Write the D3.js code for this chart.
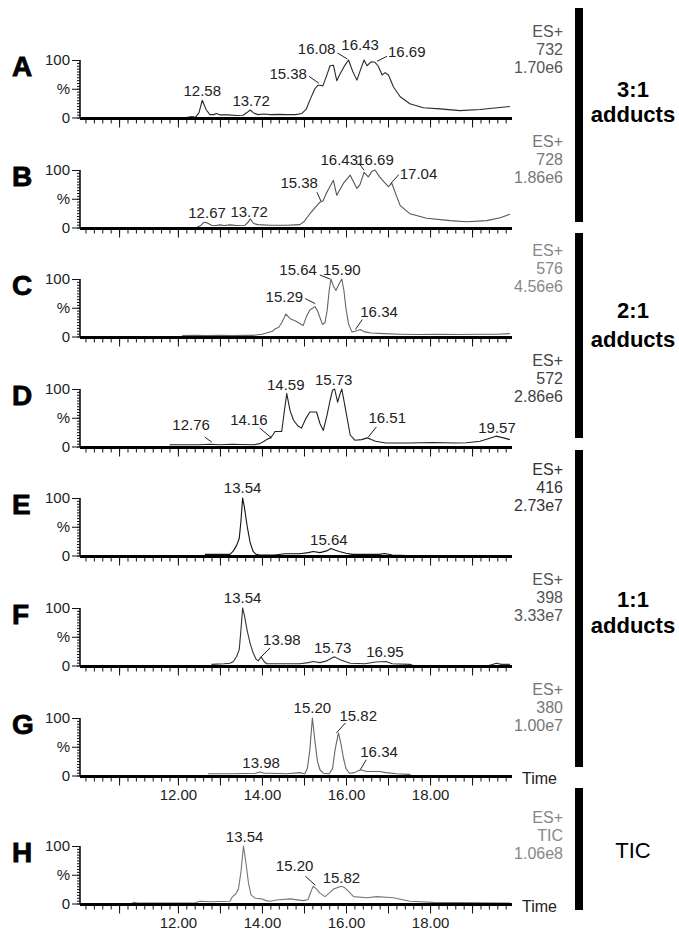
<!DOCTYPE html>
<html>
<head>
<meta charset="utf-8">
<script src="https://cdn.jsdelivr.net/npm/d3@7"></script>
<style>
  body { margin: 0; background: #fff; }
  svg { display: block; }
  text { font-family: "Liberation Sans", Arial, sans-serif; }
</style>
</head>
<body>
<div id="chart"></div>
<script>
// ---- data: [retention time (min), relative intensity %] ----
const panelLetters = ["A", "B", "C", "D", "E", "F", "G", "H"];
const ionChannels = ["732", "728", "576", "572", "416", "398", "380", "TIC"];
const maxIntensities = ["1.70e6", "1.86e6", "4.56e6", "2.86e6", "2.73e7", "3.33e7", "1.00e7", "1.06e8"];
const groupNames = [["3:1", "adducts"], ["2:1", "adducts"], ["1:1", "adducts"], ["TIC"]];
const timeTicks = [12, 14, 16, 18];
const yTickLabels = ["0", "%", "100"];

const traceA = [[12.2,0],[12.33,1.5],[12.42,0.5],[12.5,8],[12.58,30],[12.67,14],[12.76,5],[12.85,5],[12.92,7],[13.0,4.5],[13.2,4.5],[13.4,3.5],[13.55,4],[13.65,9],[13.72,13],[13.8,8],[13.9,5],[14.05,6],[14.2,5],[14.4,5.5],[14.6,5],[14.8,5],[14.95,7],[15.05,14],[15.15,32],[15.26,50],[15.33,56],[15.38,56],[15.45,55],[15.55,75],[15.62,90],[15.7,91],[15.78,64],[15.86,76],[15.95,88],[16.06,100],[16.16,80],[16.26,65],[16.34,82],[16.43,100],[16.5,90],[16.6,97],[16.69,96],[16.76,90],[16.86,74],[16.93,78],[17.01,74],[17.13,53],[17.29,36],[17.52,24],[17.84,17],[18.24,15],[18.71,12],[19.19,14],[19.6,17],[19.9,19]];
const traceB = [[12.45,0],[12.55,4],[12.62,9],[12.7,8],[12.8,4],[12.9,3.5],[13.0,4.5],[13.1,3.5],[13.25,4.5],[13.4,3.5],[13.6,4],[13.68,10],[13.72,15],[13.8,7],[13.9,5],[14.2,4],[14.6,4],[14.9,5],[15.0,10],[15.14,24],[15.26,34],[15.38,44],[15.45,46],[15.55,62],[15.7,82],[15.78,56],[15.94,77],[16.1,91],[16.26,68],[16.33,74],[16.43,96],[16.53,88],[16.62,98],[16.69,100],[16.8,88],[16.92,78],[17.01,71],[17.09,77],[17.2,55],[17.29,38],[17.52,24],[17.92,16],[18.48,12],[18.87,10],[19.35,12],[19.67,17],[19.9,23]];
const traceC = [[12.1,1.5],[12.4,2],[12.7,1.5],[13.0,2],[13.3,1.5],[13.6,2],[13.8,2],[14.0,4],[14.11,6],[14.25,9],[14.31,13],[14.4,16],[14.47,24],[14.57,39],[14.67,31],[14.8,27],[14.98,19],[15.06,35],[15.14,46],[15.26,52],[15.32,45],[15.38,33],[15.44,21],[15.5,24],[15.55,45],[15.6,80],[15.64,100],[15.7,88],[15.76,80],[15.84,92],[15.9,100],[15.95,80],[16.0,48],[16.06,22],[16.14,8],[16.22,9],[16.34,12],[16.45,8],[16.6,6],[16.9,5],[17.3,4],[17.7,3.5],[18.2,4],[18.7,3.5],[19.2,4],[19.6,4],[19.9,5]];
const traceD = [[11.8,3],[12.2,3],[12.5,3],[12.76,4],[13.0,3],[13.3,4],[13.5,3.5],[13.8,3],[13.95,5],[14.05,9],[14.11,12],[14.2,15],[14.26,20],[14.31,26],[14.47,26],[14.53,60],[14.59,92],[14.67,62],[14.75,46],[14.85,36],[14.94,32],[15.04,48],[15.14,60],[15.3,60],[15.38,40],[15.46,28],[15.55,55],[15.62,80],[15.68,98],[15.73,100],[15.8,77],[15.86,92],[15.9,100],[15.98,68],[16.05,40],[16.1,20],[16.21,11],[16.37,12],[16.51,15],[16.6,12],[16.7,9],[16.95,6],[17.5,6],[18.08,7],[18.6,6],[18.87,6.5],[19.19,9],[19.4,14],[19.57,18],[19.75,15],[19.9,12]];
const traceE = [[12.64,2],[13.0,2],[13.24,2],[13.32,8],[13.4,18],[13.46,30],[13.5,60],[13.54,100],[13.58,85],[13.65,50],[13.72,22],[13.79,7],[13.86,2],[13.95,1],[14.3,1],[14.55,3],[14.9,3],[15.1,5],[15.22,7],[15.38,5],[15.54,8],[15.64,12],[15.75,9],[15.84,7],[16.0,4],[16.15,2],[16.8,2],[16.92,3.5],[17.1,1],[17.45,0]];
const traceF = [[12.8,2],[13.1,3],[13.24,4],[13.32,7],[13.4,16],[13.46,28],[13.5,62],[13.54,100],[13.58,88],[13.65,60],[13.72,38],[13.79,22],[13.86,11],[13.91,8],[13.98,15],[14.05,7],[14.11,3],[14.5,3],[14.9,3],[15.1,5],[15.22,7],[15.38,5],[15.54,8],[15.66,13],[15.73,15],[15.86,10],[16.1,4],[16.45,3],[16.7,6],[16.95,7],[17.1,3],[17.52,2],[17.6,0],[19.4,0],[19.5,2],[19.58,4],[19.7,2],[19.9,2]];
const traceG = [[12.72,3],[13.0,3],[13.3,3],[13.6,3.5],[13.85,4],[13.95,6],[14.05,4],[14.2,4],[14.6,3],[14.9,5],[15.02,3],[15.08,12],[15.14,45],[15.2,100],[15.26,60],[15.32,25],[15.38,10],[15.46,4],[15.6,3],[15.68,12],[15.74,45],[15.82,74],[15.88,55],[15.94,30],[16.0,12],[16.08,4],[16.2,5],[16.34,10],[16.5,7],[16.8,7],[16.95,5],[17.2,3],[17.5,2],[17.55,0]];
const traceH = [[10.9,0],[10.95,2],[11.05,1],[11.5,1],[12.0,1],[12.4,1],[12.52,4],[12.8,3],[13.0,3.5],[13.24,4],[13.3,12],[13.38,17],[13.44,25],[13.5,55],[13.56,100],[13.62,70],[13.68,35],[13.74,15],[13.84,9],[14.0,8],[14.1,5],[14.2,4],[14.35,6],[14.67,8],[14.98,5],[15.1,7],[15.16,20],[15.22,30],[15.3,25],[15.38,18],[15.5,12],[15.6,18],[15.7,25],[15.8,28],[15.9,30],[15.96,28],[16.06,21],[16.18,12],[16.5,10],[16.73,12],[17.13,10],[17.52,4],[18.08,2],[19.9,1]];
const traces = [traceA, traceB, traceC, traceD, traceE, traceF, traceG, traceH];

// labelled peaks: [time, intensity %]
const peaksA = [[12.58,30],[13.72,13],[15.38,56],[16.08,100],[16.43,100],[16.69,96]];
const peaksB = [[12.67,9],[13.72,15],[15.38,44],[16.43,96],[16.69,100],[17.04,71]];
const peaksC = [[15.29,52],[15.64,100],[15.90,100],[16.34,12]];
const peaksD = [[12.76,4],[14.16,13],[14.59,92],[15.73,100],[16.51,15],[19.57,18]];
const peaksE = [[13.54,100],[15.64,12]];
const peaksF = [[13.54,100],[13.98,15],[15.73,15],[16.95,7]];
const peaksG = [[13.98,6],[15.20,100],[15.82,74],[16.34,10]];
const peaksH = [[13.54,100],[15.20,30],[15.82,28]];
const peaks = [peaksA, peaksB, peaksC, peaksD, peaksE, peaksF, peaksG, peaksH];

// ---- layout ----
const W = 679, H = 930;
const tops = [60, 170, 279, 389, 498, 608, 718, 846];
const ph = 57.5;
const traceColor = ["#2a2a2a", "#555", "#666", "#222", "#111", "#333", "#666", "#777"];
const infoColor = ["#555", "#777", "#888", "#444", "#333", "#555", "#777", "#888"];
// label placement: [anchor, dx, dy, leader(x1,y1,x2,y2) relative to the peak]
const placement = [
  [["middle",0,-4],["middle",1,-4],["end",-13,-6,[-11,-9,-1,-2]],["end",-14,-6,[-12,-7,-2,-1]],["middle",-4,-10],["start",13,-5,[2,-1,12,-6]]],
  [["middle",1,-4],["middle",-1,-2],["end",-2,-14,[-3,-10,1,-1]],["end",-6,-7,[-5,-9,0,-2]],["middle",0,-5],["start",10,-8,[1,-3,9,-12]]],
  [["end",-13,-5,[-11,-8,-1,-3]],["end",-14,-4,[-11,-4,-1,0]],["middle",0,-4],["start",0,-13,[-5,0,2,-10]]],
  [["end",0,-14,[-5,-7,2,-2]],["end",-1,-14,[-9,-11,3,-1]],["middle",-1,-4],["middle",-1,-4],["start",1,-15,[9,-11,1,-1]],["middle",1,-3]],
  [["middle",0,-5],["middle",-2,-4]],
  [["middle",0,-5],["start",2,-12,[0,0,9,-9]],["middle",-2,-4],["middle",-1,-4]],
  [["middle",0,-4],["middle",0,-5],["start",1,-12,[-2,0,7,-10]],["start",0,-13,[0,0,6,-10]]],
  [["middle",2,-4],["end",1,-15,[-7,-10,3,-1]],["middle",3,-4]]
];
const groupPanels = [[0, 1], [2, 3], [4, 6], [7, 7]];
const barExtents = [[8, 222], [233, 438], [450, 767], [788, 910]];
const groupLabelY = [[97, 122], [318, 347], [607, 633], [858]];

const svg = d3.select("#chart").append("svg")
  .attr("width", W).attr("height", H);
svg.append("rect").attr("width", W).attr("height", H).attr("fill", "#fff");

const x0 = 80;
const x = d3.scaleLinear().domain([9.67, 19.95]).range([x0, 512]);
const minorTicks = d3.range(49, 100).map(i => i / 5);
const majorTicks = [10.6, 12, 13, 14, 15, 16, 17, 18, 19];
const yMinor = d3.range(0, 101, 5);

panelLetters.forEach((letter, i) => {
  const top = tops[i], base = top + ph;
  const y = d3.scaleLinear().domain([0, 100]).range([base, top]);
  const g = svg.append("g");

  // trace
  g.append("path")
    .datum(traces[i])
    .attr("d", d3.line().x(d => x(d[0])).y(d => y(d[1])))
    .attr("fill", "none")
    .attr("stroke", traceColor[i])
    .attr("stroke-width", 1.1)
    .attr("stroke-linejoin", "round");

  // y axis
  g.append("g").attr("transform", `translate(${x0},0)`)
    .call(d3.axisLeft(y).tickValues(yMinor).tickSize(3).tickFormat(""))
    .call(a => a.select(".domain").remove())
    .call(a => a.selectAll("line").attr("stroke", "#111"));
  g.append("g").attr("transform", `translate(${x0},0)`)
    .call(d3.axisLeft(y).tickValues([0, 50, 100]).tickSize(8).tickPadding(2)
      .tickFormat((d, j) => yTickLabels[j]))
    .call(a => a.select(".domain").remove())
    .call(a => a.selectAll("line").attr("stroke", "#111"))
    .call(a => a.selectAll("text").attr("font-size", 15).attr("fill", "#222")
      .attr("font-family", '"Liberation Sans", Arial, sans-serif'));
  g.append("line")
    .attr("x1", x0).attr("x2", x0).attr("y1", top).attr("y2", base)
    .attr("stroke", "#111").attr("stroke-width", 1.6);

  // x axis
  g.append("g").attr("transform", `translate(0,${base + 2})`)
    .call(d3.axisBottom(x).tickValues(minorTicks).tickSize(4).tickFormat(""))
    .call(a => a.select(".domain").remove())
    .call(a => a.selectAll("line").attr("stroke", "#111"));
  g.append("g").attr("transform", `translate(0,${base + 2})`)
    .call(d3.axisBottom(x).tickValues(majorTicks).tickSize(8).tickFormat(""))
    .call(a => a.select(".domain").remove())
    .call(a => a.selectAll("line").attr("stroke", "#111"));
  g.append("line")
    .attr("x1", x0).attr("x2", 512).attr("y1", base + 1).attr("y2", base + 1)
    .attr("stroke", "#000").attr("stroke-width", 3);

  if (i >= 6) {
    g.append("g").attr("transform", `translate(0,${base + 2})`)
      .call(d3.axisBottom(x).tickValues(timeTicks).tickSize(0).tickPadding(12)
        .tickFormat(d3.format(".2f")))
      .call(a => a.select(".domain").remove())
      .call(a => a.selectAll("text").attr("font-size", 15).attr("fill", "#222")
        .attr("font-family", '"Liberation Sans", Arial, sans-serif'));
    g.append("text")
      .attr("x", 522).attr("y", base + 8)
      .attr("font-size", 16).attr("fill", "#222")
      .text("Time");
  }

  // panel letter
  g.append("text")
    .attr("x", 12).attr("y", top + 16)
    .attr("font-size", 28).attr("font-weight", "bold")
    .attr("fill", "#000").attr("stroke", "#000").attr("stroke-width", 0.8)
    .text(letter);

  // channel info
  const info = g.append("text")
    .attr("text-anchor", "end").attr("font-size", 16).attr("fill", infoColor[i]);
  ["ES+", ionChannels[i], maxIntensities[i]].forEach((s, k) => {
    info.append("tspan").attr("x", 563).attr("y", top - 23 + k * 18).text(s);
  });

  // peak labels
  peaks[i].forEach((p, k) => {
    const [anchor, dx, dy, leader] = placement[i][k];
    const px = x(p[0]), py = y(p[1]);
    g.append("text")
      .attr("x", px + dx).attr("y", py + dy)
      .attr("text-anchor", anchor)
      .attr("font-size", 15).attr("fill", "#222")
      .text(p[0].toFixed(2));
    if (leader) {
      g.append("line")
        .attr("x1", px + leader[0]).attr("y1", py + leader[1])
        .attr("x2", px + leader[2]).attr("y2", py + leader[3])
        .attr("stroke", "#222").attr("stroke-width", 1);
    }
  });
});

// group bars and labels
groupNames.forEach((names, j) => {
  const [y1, y2] = barExtents[j];
  svg.append("rect")
    .attr("x", 575).attr("y", y1).attr("width", 8).attr("height", y2 - y1)
    .attr("fill", "#000");
  names.forEach((s, k) => {
    svg.append("text")
      .attr("x", 633).attr("y", groupLabelY[j][k])
      .attr("text-anchor", "middle")
      .attr("font-size", 22)
      .attr("font-weight", s === "TIC" ? "normal" : "bold")
      .attr("fill", "#000")
      .text(s);
  });
});
</script>
</body>
</html>
